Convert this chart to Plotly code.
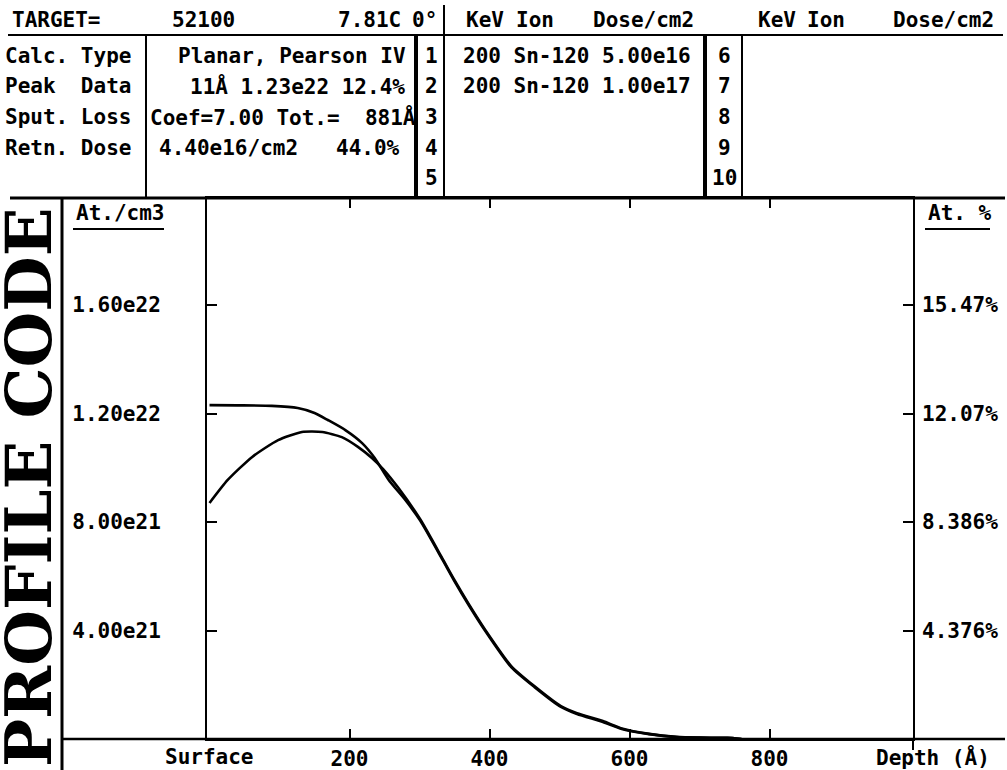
import plotly.graph_objects as go

# ---------------- data ----------------
depth_1 = [0, 40, 89, 126, 150, 169, 194, 218, 236, 256, 280, 301, 333, 349, 370, 393,
           431, 464, 502, 525, 562, 589, 628, 667, 700, 740, 760]
conc_1 = [12.31e21, 12.30e21, 12.28e21, 12.20e21, 12.02e21, 11.76e21, 11.39e21, 10.91e21,
          10.36e21, 9.55e21, 8.80e21, 8.05e21, 6.60e21, 5.86e21, 4.95e21, 4.02e21,
          2.65e21, 1.92e21, 1.18e21, 0.92e21, 0.63e21, 0.37e21, 0.18e21, 0.07e21,
          0.05e21, 0.04e21, 0.0]

depth_2 = [0, 26, 61, 98, 132, 161, 189, 212, 232, 248, 270, 301, 333, 349, 370, 393,
           431, 464, 502, 525, 562, 589, 628, 667, 700, 740, 760]
conc_2 = [8.70e21, 9.55e21, 10.40e21, 11.02e21, 11.32e21, 11.32e21, 11.13e21, 10.77e21,
          10.36e21, 9.95e21, 9.25e21, 8.10e21, 6.64e21, 5.90e21, 4.99e21, 4.06e21,
          2.69e21, 1.95e21, 1.21e21, 0.95e21, 0.66e21, 0.39e21, 0.19e21, 0.08e21,
          0.05e21, 0.04e21, 0.0]

x_ticks = [200, 400, 600, 800]
x_tick_labels = ["200", "400", "600", "800"]
y_ticks = [4.0e21, 8.0e21, 1.2e22, 1.6e22]
y_tick_labels = ["4.00e21", "8.00e21", "1.20e22", "1.60e22"]
pct_tick_labels = ["4.376%", "8.386%", "12.07%", "15.47%"]

header_cols = ["KeV", "Ion", "Dose/cm2"]
row_labels = ["Calc. Type", "Peak\u00a0 Data", "Sput. Loss", "Retn. Dose"]
row_values = ["Planar, Pearson IV", "11Å 1.23e22 12.4%", "Coef=7.00 Tot.=\u00a0 881Å",
              "4.40e16/cm2\u00a0\u00a0 44.0%"]
implant_rows = ["200 Sn-120 5.00e16", "200 Sn-120 1.00e17"]
slot_numbers_a = ["1", "2", "3", "4", "5"]
slot_numbers_b = ["6", "7", "8", "9", "10"]

# ---------------- helpers ----------------
W, H = 1007, 770


def X(px):
    return px / W


def Y(py):
    return 1 - py / H


MONO = "DejaVu Sans Mono"
FS = 21


def txt(s, px, py, anchor="left", size=FS, family=MONO):
    return dict(text=s, x=X(px), y=Y(py), xref="paper", yref="paper",
                xanchor=anchor, yanchor="middle", showarrow=False,
                font=dict(family=family, size=size, color="black", weight="bold"))


def seg(x0, y0, x1, y1, w=2):
    return dict(type="line", xref="paper", yref="paper",
                x0=X(x0), y0=Y(y0), x1=X(x1), y1=Y(y1),
                line=dict(color="black", width=w))


fig = go.Figure()
fig.add_trace(go.Scatter(x=depth_1, y=conc_1, mode="lines",
                         line=dict(color="black", width=2.6, shape="spline", smoothing=0.6),
                         hoverinfo="skip"))
fig.add_trace(go.Scatter(x=depth_2, y=conc_2, mode="lines",
                         line=dict(color="black", width=2.6, shape="spline", smoothing=0.6),
                         hoverinfo="skip"))
# same curve on the percent axis (invisible) so the right axis renders
fig.add_trace(go.Scatter(x=depth_1, y=conc_1, mode="lines", yaxis="y2",
                         line=dict(color="rgba(0,0,0,0)", width=0), hoverinfo="skip"))

tickfont = dict(family=MONO, size=FS, color="black", weight="bold")

yr = [0, (739 - 198) / 108.5 * 4e21]

fig.update_layout(
    width=W, height=H, margin=dict(l=0, r=0, t=0, b=0),
    paper_bgcolor="white", plot_bgcolor="white", showlegend=False,
    xaxis=dict(domain=[X(207), X(913)], range=[-3.6, 1005], showgrid=False, zeroline=False,
               showline=True, mirror="ticks", linecolor="black", linewidth=2,
               ticks="inside", ticklen=10, tickwidth=2, tickcolor="black",
               tickvals=x_ticks, ticktext=x_tick_labels, tickfont=tickfont),
    yaxis=dict(domain=[Y(739), Y(198)], range=yr, showgrid=False, zeroline=False,
               showline=True, mirror="ticks", linecolor="black", linewidth=2,
               ticks="inside", ticklen=10, tickwidth=2, tickcolor="black",
               tickvals=y_ticks, ticktext=y_tick_labels, tickfont=tickfont,
               ticklabelstandoff=40),
    yaxis2=dict(overlaying="y", side="right", anchor="x", range=yr, showgrid=False,
                zeroline=False, showline=False, ticks="",
                tickvals=y_ticks, ticktext=pct_tick_labels, tickfont=tickfont,
                ticklabelstandoff=8),
)

ann = []
# header row
ann.append(txt("TARGET=", 10, 20))
ann.append(txt("52100", 203, 20, "center"))
ann.append(txt("7.81C", 369, 20, "center"))
ann.append(txt("0°", 424, 20, "center"))
for s, cx in zip(header_cols, [485, 535, 643]):
    ann.append(txt(s, cx, 20, "center"))
for s, cx in zip(header_cols, [777, 826, 943]):
    ann.append(txt(s, cx, 20, "center"))

row_y = [56, 86.5, 117, 147.5, 178]
for s, ry in zip(row_labels, row_y):
    ann.append(txt(s, 3, ry))
ann.append(txt(row_values[0], 292, row_y[0], "center"))
ann.append(txt(row_values[1], 407, row_y[1], "right"))
ann.append(txt(row_values[2], 148, row_y[2]))
ann.append(txt(row_values[3], 157, row_y[3]))
for s, ry in zip(slot_numbers_a, row_y):
    ann.append(txt(s, 431, ry, "center"))
for s, ry in zip(slot_numbers_b, row_y):
    ann.append(txt(s, 724, ry, "center"))
for s, ry in zip(implant_rows, row_y):
    ann.append(txt(s, 461, ry))

# plot labels
ann.append(txt("At./cm3", 74, 213))
ann.append(txt("At. %", 926, 213))
ann.append(dict(text="Surface", x=0, y=Y(757), xref="x", yref="paper", xanchor="center",
                yanchor="middle", showarrow=False, font=tickfont))
ann.append(txt("Depth (Å)", 933, 757, "center"))
ann.append(dict(text="PROFILE CODE", x=X(28), y=Y(488), xref="paper", yref="paper",
                xanchor="center", yanchor="middle", showarrow=False, textangle=-90,
                font=dict(family="DejaVu Serif", size=64, color="black", weight="bold")))

shapes = [
    seg(8, 35, 1003, 35, 2),        # header underline
    seg(146, 35, 146, 197, 2),      # label/value separator
    seg(416, 35, 416, 197, 4),      # thick before slot numbers 1-5
    seg(444, 5, 444, 197, 2),       # after slot numbers 1-5
    seg(705, 35, 705, 197, 4),      # thick before slot numbers 6-10
    seg(742, 35, 742, 197, 2),      # after slot numbers 6-10
    seg(10, 198, 1005, 198, 3),     # table bottom / plot top
    seg(62, 198, 62, 770, 3),       # left panel separator
    seg(62, 739, 1005, 739, 2.5),   # baseline extension
    seg(913, 739, 913, 750, 2),     # right axis extension
    seg(73, 229, 164, 229, 2),      # At./cm3 underline
    seg(925, 229, 990, 229, 2),     # At. % underline
]

fig.update_layout(annotations=ann, shapes=shapes)
fig.write_html("out.html", config={"displayModeBar": False},
               post_script="document.body.style.margin='0px';document.body.style.overflow='hidden';")
